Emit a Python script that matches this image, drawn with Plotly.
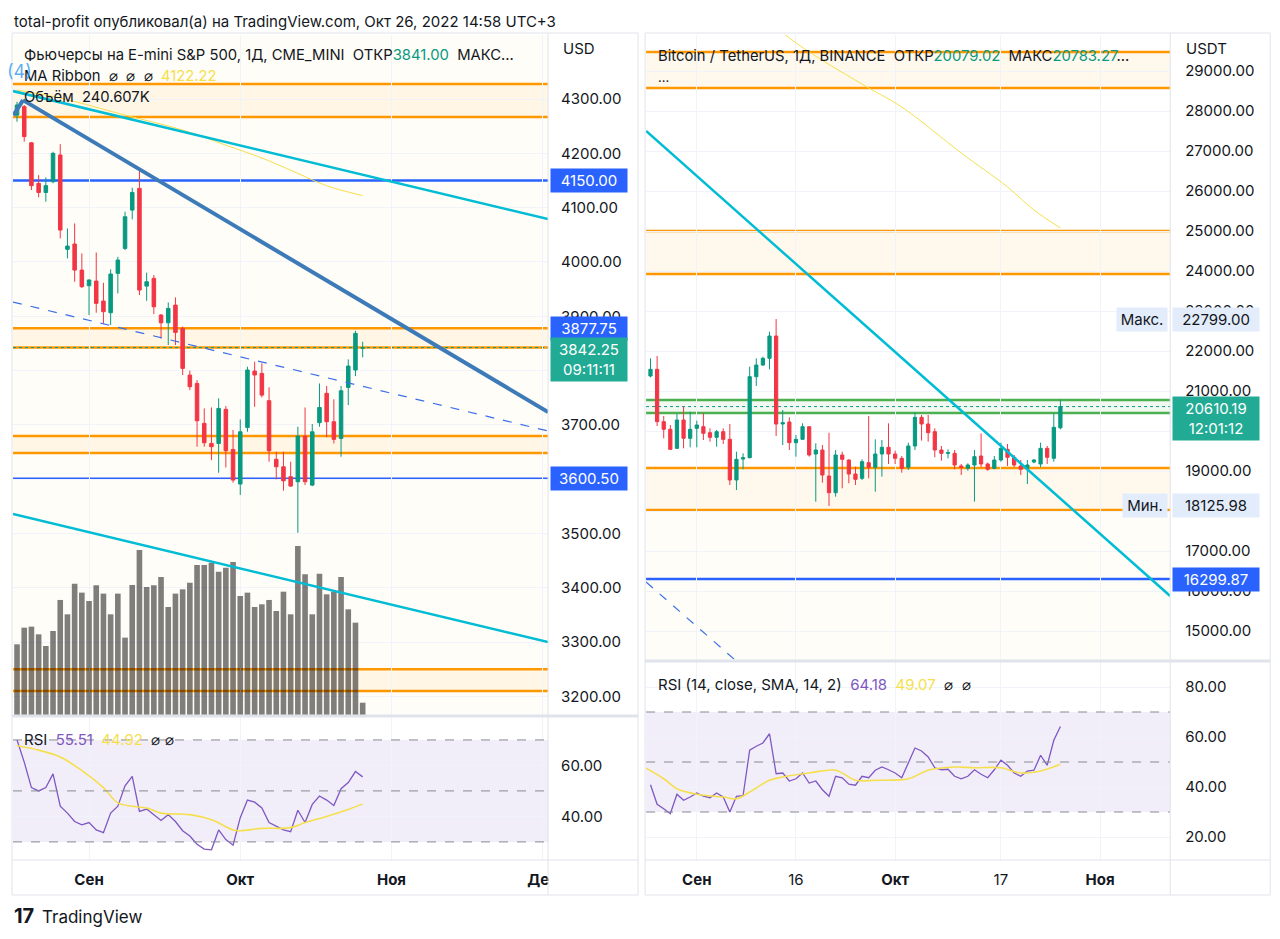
import plotly.graph_objects as go
import pandas as pd

# page pixels -> figure paper (page body keeps an 8 px margin; small horizontal squeeze observed)
OFF = 8
SX = 0.992
FW, FH = 1273, 939 - 2 * OFF
def px(x): return (x - OFF) / SX / FW
def py(y): return 1 - (y - OFF) / FH

FONT = "Inter, Roboto, 'Noto Sans', sans-serif"
TXT = "#131722"
TEAL = "#089981"
LBL_TEAL = "#22ab94"
RED = "#f23645"
ORANGE = "#ff9800"
BLUE = "#2962ff"
CYAN = "#00bcd4"
STEEL = "#3d7ab8"
DASHBLUE = "#3b6fe8"
YELLOW = "#f5df4d"
PURPLE = "#7e57c2"
GRID = "#f0f3fa"
FRAME = "#e0e3eb"
NB = "\u00a0"

# ---------------- E-mini S&P 500 futures (left) ----------------
es_dates = ["2022-08-18", "2022-08-19", "2022-08-22", "2022-08-23", "2022-08-24", "2022-08-25",
            "2022-08-26", "2022-08-29", "2022-08-30", "2022-08-31", "2022-09-01", "2022-09-02",
            "2022-09-06", "2022-09-07", "2022-09-08", "2022-09-09", "2022-09-12", "2022-09-13",
            "2022-09-14", "2022-09-15", "2022-09-16", "2022-09-19", "2022-09-20", "2022-09-21",
            "2022-09-22", "2022-09-23", "2022-09-26", "2022-09-27", "2022-09-28", "2022-09-29",
            "2022-09-30", "2022-10-03", "2022-10-04", "2022-10-05", "2022-10-06", "2022-10-07",
            "2022-10-10", "2022-10-11", "2022-10-12", "2022-10-13", "2022-10-14", "2022-10-17",
            "2022-10-18", "2022-10-19", "2022-10-20", "2022-10-21", "2022-10-24", "2022-10-25",
            "2022-10-26"]
es_open = [4270.5, 4286.0, 4219.5, 4144.75, 4128.0, 4147.75, 4197.0, 4023.25, 4033.0, 3985.0,
           3956.25, 3964.75, 3928.0, 3906.5, 3979.0, 4025.0, 4095.5, 4135.5, 3955.5, 3969.75,
           3902.25, 3888.0, 3920.5, 3877.75, 3791.75, 3776.25, 3702.75, 3665.75, 3665.75, 3728.5,
           3654.75, 3591.0, 3695.25, 3799.0, 3794.75, 3744.5, 3636.5, 3622.75, 3604.5, 3595.25,
           3679.25, 3589.0, 3704.0, 3758.0, 3705.75, 3675.0, 3769.0, 3801.0, 3841.0]
es_high = [4295.0, 4289.0, 4221.0, 4160.0, 4155.75, 4203.0, 4217.0, 4061.75, 4071.0, 4015.75,
           3968.0, 4017.5, 3961.75, 3986.25, 4009.5, 4092.5, 4136.75, 4172.25, 3980.25, 3976.0,
           3904.0, 3925.5, 3934.75, 3881.0, 3800.0, 3782.5, 3730.25, 3732.0, 3748.75, 3734.5,
           3690.5, 3710.0, 3807.0, 3816.25, 3813.25, 3769.0, 3650.5, 3650.5, 3632.0, 3696.5,
           3732.0, 3701.5, 3776.25, 3771.5, 3747.0, 3771.5, 3820.5, 3873.25, 3853.0]
es_low = [4258.25, 4221.5, 4132.5, 4119.0, 4111.0, 4145.0, 4043.5, 4006.5, 3963.5, 3952.0,
          3902.25, 3906.5, 3887.0, 3883.75, 3942.0, 4022.0, 4078.5, 3939.0, 3928.5, 3904.0,
          3859.25, 3847.0, 3847.0, 3791.75, 3764.0, 3659.75, 3659.75, 3635.0, 3611.75, 3621.5,
          3593.5, 3570.75, 3687.25, 3733.25, 3750.5, 3632.0, 3599.5, 3578.75, 3586.0, 3501.25,
          3589.0, 3587.0, 3696.5, 3677.0, 3665.75, 3641.25, 3736.5, 3789.75, 3824.25]
es_close = [4289.0, 4230.75, 4140.5, 4128.0, 4140.5, 4200.0, 4058.75, 4029.25, 3985.0, 3954.5,
            3966.75, 3923.75, 3908.5, 3977.75, 4003.5, 4083.25, 4128.0, 3948.25, 3963.5, 3917.5,
            3888.0, 3914.5, 3870.25, 3804.0, 3770.25, 3707.5, 3667.0, 3659.75, 3730.25, 3652.25,
            3598.25, 3687.25, 3801.0, 3791.75, 3754.75, 3652.25, 3622.75, 3597.0, 3587.25, 3679.25,
            3595.25, 3687.25, 3732.0, 3705.75, 3673.25, 3762.75, 3808.25, 3868.5, 3842.25]
es_volume_k = [1383, 1708, 1728, 1578, 1350, 1643, 2250, 1969, 2569, 2393, 2230, 2536, 2374,
               1969, 2374, 1513, 2543, 3228, 2504, 2536, 2700, 2113, 2374, 2458, 2589, 2934,
               2934, 2980, 2804, 2882, 2993, 2328, 2393, 2113, 2165, 2250, 2034, 2412, 1969,
               3306, 2752, 1969, 2765, 2360, 2412, 2700, 2067, 1806, 240.607]
es_rsi = [70.0, 61.3, 51.3, 50.0, 51.3, 56.7, 44.0, 41.3, 38.0, 36.7, 37.6, 34.7, 33.6, 41.3,
          44.0, 52.0, 55.7, 42.0, 42.9, 40.7, 38.4, 40.7, 38.0, 34.4, 32.3, 29.1, 27.2, 26.9,
          34.7, 30.9, 28.7, 39.5, 46.4, 45.6, 43.3, 37.6, 36.0, 34.7, 34.0, 42.4, 37.6, 44.7,
          48.0, 46.4, 44.3, 50.9, 53.3, 57.6, 55.51]
es_rsi_sma_bar = [0, 3, 6, 9, 12, 14, 16, 18, 20, 24, 27, 30, 31, 34, 38, 40, 43, 46, 48]
es_rsi_sma = [67.7, 66.0, 63.3, 58.0, 51.3, 45.3, 44.0, 43.3, 41.3, 40.7, 38.7, 34.7, 34.4,
              35.3, 35.6, 37.6, 40.0, 42.7, 44.92]
es_ma_bar = [0, 6, 15, 23, 29, 34, 38, 42, 44, 48]
es_ma = [4316.5, 4302.0, 4270.5, 4243.0, 4215.0, 4191.5, 4169.0, 4145.5, 4136.0, 4122.22]
es_month_bar = [10, 31, 52, 73]
es_month_text = ["Сен", "Окт", "Ноя", "Дек"]
es_price_ticks = [3200, 3300, 3400, 3500, 3600, 3700, 3800, 3900, 4000, 4100, 4200, 4300]
es_price_hidden = [3600, 3800]          # covered by the price-label boxes
es_rsi_ticks = [40, 60]
# drawings (bar index, price)
es_wave_bar, es_wave_px = [-0.5, 0.83, 73.75], [4270.0, 4298.0, 3723.6]
es_chan_up_bar, es_chan_up_px = [-0.56, 73.75], [4314.7, 4079.0]
es_chan_lo_bar, es_chan_lo_px = [-0.56, 73.75], [3535.7, 3300.0]
es_dash_bar, es_dash_px = [-0.56, 73.75], [3926.2, 3688.6]
es_bands = [(4327.6, 4266.9), (3877.75, 3842.25), (3679.4, 3648.0), (3250.0, 3209.8)]
es_blue_levels = [4150.00, 3600.50]

# ---------------- Bitcoin / TetherUS (right) ----------------
btc_dates = pd.date_range("2022-08-25", "2022-10-26", freq="D").strftime("%Y-%m-%d").tolist()
btc_open = [21375, 21542, 20233, 20042, 19567, 20275, 19817, 20067, 20108, 19958, 19842, 19983,
            19792, 18775, 19300, 19333, 21358, 21650, 21817, 22375, 20175, 20225, 19708, 19792,
            20108, 19425, 19525, 18875, 18458, 19400, 19275, 18925, 18817, 19208, 19092, 19425,
            19592, 19425, 19317, 19092, 19625, 20342, 20175, 19983, 19525, 19442, 19442, 19125,
            19067, 19150, 19375, 19175, 19067, 19275, 19542, 19342, 19125, 19067, 19225, 19175,
            19567, 19317, 20079.02]
btc_high = [21817, 21875, 20375, 20150, 20425, 20608, 20483, 20258, 20442, 20067, 20025, 20067,
            20175, 19483, 19442, 21608, 21817, 21858, 22483, 22799, 20525, 20342, 19900, 20192,
            20108, 19692, 19650, 19958, 19525, 19483, 19292, 19108, 19292, 20375, 19792, 19775,
            20192, 19508, 19375, 19708, 20467, 20400, 20400, 20067, 19625, 19542, 19525, 19175,
            19192, 19525, 19942, 19208, 19375, 19708, 19675, 19400, 19275, 19275, 19300, 19708,
            19625, 20442, 20783.27]
btc_low = [21342, 20125, 19817, 19525, 19550, 19567, 19592, 19592, 19775, 19733, 19608, 19675,
           18650, 18525, 19042, 19317, 21125, 21625, 21542, 19875, 19650, 19525, 19358, 19780,
           19358, 18233, 18708, 18125.98, 18358, 18567, 18692, 18650, 18775, 18817, 18483, 18858,
           19175, 19175, 18958, 19025, 19525, 19758, 19733, 19342, 19258, 19317, 19042, 18900,
           19008, 18233, 19092, 19008, 19042, 19233, 19125, 19092, 18900, 18675, 19192, 19092,
           19175, 19233, 20042]
btc_close = [21542, 20233, 20042, 19542, 20275, 19817, 20042, 20150, 19942, 19842, 19983, 19792,
             18775, 19292, 19333, 21358, 21650, 21817, 22375, 20175, 20208, 19708, 19792, 20108,
             19400, 19525, 18900, 18458, 19400, 19292, 18925, 18792, 19233, 19092, 19425, 19592,
             19425, 19317, 19067, 19625, 20342, 20175, 19958, 19525, 19442, 19458, 19150, 19092,
             19150, 19358, 19175, 19042, 19275, 19567, 19342, 19150, 19042, 19150, 19275, 19567,
             19342, 20092, 20610.19]
btc_rsi = [40.9, 33.1, 31.3, 29.3, 37.1, 34.7, 36.0, 37.6, 36.3, 35.7, 37.6, 36.0, 30.0, 36.3,
           36.5, 54.7, 56.3, 57.6, 61.3, 45.3, 45.6, 42.4, 43.3, 45.6, 41.6, 42.4, 38.9, 36.3,
           44.3, 43.7, 41.1, 40.7, 44.3, 43.7, 46.7, 48.0, 46.9, 45.6, 43.7, 49.3, 55.6, 54.4,
           52.0, 47.7, 46.9, 47.1, 44.3, 43.3, 44.3, 46.9, 45.1, 43.7, 46.9, 50.7, 48.7, 45.6,
           44.3, 46.4, 46.7, 52.7, 48.7, 58.7, 64.18]
btc_rsi_sma_dates = ["2022-08-24", "2022-08-27", "2022-08-29", "2022-09-01", "2022-09-05",
                     "2022-09-07", "2022-09-09", "2022-09-12", "2022-09-14", "2022-09-18",
                     "2022-09-22", "2022-09-25", "2022-09-28", "2022-10-03", "2022-10-06",
                     "2022-10-10", "2022-10-13", "2022-10-17", "2022-10-20", "2022-10-23",
                     "2022-10-26"]
btc_rsi_sma = [48.0, 43.3, 39.3, 37.1, 36.0, 35.3, 38.0, 42.7, 44.0, 45.6, 46.7, 42.7, 42.7,
               43.3, 46.7, 48.0, 47.7, 47.7, 45.6, 46.4, 49.07]
btc_ma_dates = ["2022-09-14", "2022-09-18", "2022-09-27", "2022-10-02", "2022-10-11",
                "2022-10-18", "2022-10-22", "2022-10-26"]
btc_ma = [29950, 29475, 28575, 28100, 26950, 26100, 25525, 25075]
btc_tick_dates = ["2022-09-01", "2022-09-16", "2022-10-01", "2022-10-17", "2022-11-01"]
btc_tick_text = ["<b>Сен</b>", "16", "<b>Окт</b>", "17", "<b>Ноя</b>"]
btc_price_ticks = [15000, 16000, 17000, 18000, 19000, 20000, 21000, 22000, 23000, 24000,
                   25000, 26000, 27000, 28000, 29000]
btc_price_hidden = [18000]              # covered by the "Мин." label
btc_rsi_ticks = [20, 40, 60, 80]
btc_chan_t, btc_chan_px = ["2022-08-24 08:00", "2022-11-11 14:24"], [27500, 15875]
btc_dash_t, btc_dash_px = ["2022-08-24 08:00", "2022-09-06 19:00"], [16225, 14275]
btc_orange_bands = [(29475, 28575), (25000, 23925), (19075, 18025)]
btc_green_band = (20775, 20450)
btc_blue_level = 16299.87

# ---------------- figure ----------------
fig = go.Figure()
candle_style = dict(increasing=dict(line=dict(color=TEAL, width=1), fillcolor=TEAL),
                    decreasing=dict(line=dict(color=RED, width=1), fillcolor=RED),
                    whiskerwidth=0, showlegend=False, hoverinfo="skip")
es_x = list(range(len(es_dates)))
fig.add_trace(go.Candlestick(x=es_x, open=es_open, high=es_high, low=es_low, close=es_close,
                             xaxis="x", yaxis="y", **candle_style))
fig.add_trace(go.Scatter(x=es_ma_bar, y=es_ma, mode="lines", xaxis="x", yaxis="y",
                         line=dict(color=YELLOW, width=1, shape="spline"), showlegend=False))
fig.add_trace(go.Bar(x=es_x, y=es_volume_k, width=0.78, xaxis="x", yaxis="y3",
                     marker=dict(color="rgba(0,0,0,0.5)", line=dict(width=0)), showlegend=False))
fig.add_trace(go.Scatter(x=es_x, y=es_rsi, mode="lines", xaxis="x2", yaxis="y2",
                         line=dict(color=PURPLE, width=1.3), showlegend=False))
fig.add_trace(go.Scatter(x=es_rsi_sma_bar, y=es_rsi_sma, mode="lines", xaxis="x2", yaxis="y2",
                         line=dict(color=YELLOW, width=1.6, shape="spline"), showlegend=False))

fig.add_trace(go.Candlestick(x=btc_dates, open=btc_open, high=btc_high, low=btc_low,
                             close=btc_close, xaxis="x3", yaxis="y4", **candle_style))
fig.add_trace(go.Scatter(x=btc_ma_dates, y=btc_ma, mode="lines", xaxis="x3", yaxis="y4",
                         line=dict(color=YELLOW, width=1, shape="spline"), showlegend=False))
fig.add_trace(go.Scatter(x=btc_dates, y=btc_rsi, mode="lines", xaxis="x4", yaxis="y5",
                         line=dict(color=PURPLE, width=1.3), showlegend=False))
fig.add_trace(go.Scatter(x=btc_rsi_sma_dates, y=btc_rsi_sma, mode="lines", xaxis="x4", yaxis="y5",
                         line=dict(color=YELLOW, width=1.6, shape="spline"), showlegend=False))

shapes = []
BAND = "rgba(255,152,0,0.07)"
# backgrounds
shapes.append(dict(type="rect", xref="x domain", yref="y domain", x0=0, x1=1, y0=0, y1=1,
                   fillcolor="#fffdf7", line=dict(width=0), layer="below"))
shapes.append(dict(type="rect", xref="x3 domain", yref="y4", x0=0, x1=1, y0=10000,
                   y1=btc_orange_bands[2][1], fillcolor="#fffdf8", line=dict(width=0), layer="below"))
# left levels
for hi, lo in es_bands:
    shapes.append(dict(type="rect", xref="x domain", yref="y", x0=0, x1=1, y0=lo, y1=hi,
                       fillcolor=BAND, line=dict(width=0), layer="below"))
    for lv in (hi, lo):
        shapes.append(dict(type="line", xref="x domain", yref="y", x0=0, x1=1, y0=lv, y1=lv,
                           line=dict(color=ORANGE, width=2.5), layer="below"))
for lv in es_blue_levels:
    shapes.append(dict(type="line", xref="x domain", yref="y", x0=0, x1=1, y0=lv, y1=lv,
                       line=dict(color=BLUE, width=2.5), layer="below"))
shapes.append(dict(type="line", xref="x domain", yref="y", x0=0, x1=1, y0=es_close[-1],
                   y1=es_close[-1], line=dict(color=TEAL, width=1, dash="dot"), layer="below"))
# right levels
for hi, lo in btc_orange_bands:
    shapes.append(dict(type="rect", xref="x3 domain", yref="y4", x0=0, x1=1, y0=lo, y1=hi,
                       fillcolor=BAND, line=dict(width=0), layer="below"))
    for lv in (hi, lo):
        shapes.append(dict(type="line", xref="x3 domain", yref="y4", x0=0, x1=1, y0=lv, y1=lv,
                           line=dict(color=ORANGE, width=2.5), layer="below"))
shapes.append(dict(type="rect", xref="x3 domain", yref="y4", x0=0, x1=1, y0=btc_green_band[1],
                   y1=btc_green_band[0], fillcolor="rgba(76,175,80,0.08)", line=dict(width=0),
                   layer="below"))
for lv in btc_green_band:
    shapes.append(dict(type="line", xref="x3 domain", yref="y4", x0=0, x1=1, y0=lv, y1=lv,
                       line=dict(color="#4caf50", width=2.5), layer="below"))
shapes.append(dict(type="line", xref="x3 domain", yref="y4", x0=0, x1=1, y0=btc_blue_level,
                   y1=btc_blue_level, line=dict(color=BLUE, width=2.5), layer="below"))
shapes.append(dict(type="line", xref="x3 domain", yref="y4", x0=0, x1=1, y0=btc_close[-1],
                   y1=btc_close[-1], line=dict(color=TEAL, width=1, dash="dot"), layer="below"))
# RSI bands
for xr, yr in (("x2", "y2"), ("x4", "y5")):
    shapes.append(dict(type="rect", xref=f"{xr} domain", yref=yr, x0=0, x1=1, y0=30, y1=70,
                       fillcolor="rgba(126,87,194,0.1)", line=dict(width=0), layer="below"))
    for lv in (70, 50, 30):
        shapes.append(dict(type="line", xref=f"{xr} domain", yref=yr, x0=0, x1=1, y0=lv, y1=lv,
                           line=dict(color="#868993", width=1, dash="dash"), layer="above"))
# trend lines
def seg_lines(xs, ys, xr, yr, color, width, dash="solid"):
    for i in range(len(xs) - 1):
        shapes.append(dict(type="line", xref=xr, yref=yr, x0=xs[i], x1=xs[i + 1], y0=ys[i],
                           y1=ys[i + 1], line=dict(color=color, width=width, dash=dash),
                           layer="above"))
seg_lines(es_wave_bar, es_wave_px, "x", "y", STEEL, 4)
seg_lines(es_chan_up_bar, es_chan_up_px, "x", "y", CYAN, 2.5)
seg_lines(es_chan_lo_bar, es_chan_lo_px, "x", "y", CYAN, 2.5)
seg_lines(es_dash_bar, es_dash_px, "x", "y", DASHBLUE, 1.2, "dash")
seg_lines(btc_chan_t, btc_chan_px, "x3", "y4", CYAN, 2.5)
seg_lines(btc_dash_t, btc_dash_px, "x3", "y4", DASHBLUE, 1.2, "dash")

# panel frames (paper)
def pline(x0, y0, x1, y1, w=1, c=FRAME):
    shapes.append(dict(type="line", xref="paper", yref="paper", x0=px(x0), x1=px(x1),
                       y0=py(y0), y1=py(y1), line=dict(color=c, width=w), layer="above"))
shapes.append(dict(type="rect", xref="paper", yref="paper", x0=px(549), x1=px(637),
                   y0=py(894), y1=py(861), fillcolor="white", line=dict(width=0), layer="above"))
for (l, r, sep, mid) in ((12, 638, 548, 716), (645, 1270, 1170, 661)):
    shapes.append(dict(type="rect", xref="paper", yref="paper", x0=px(l), x1=px(r), y0=py(895),
                       y1=py(33), line=dict(color=FRAME, width=1), layer="above"))
    pline(sep, 33, sep, 895)
    pline(l, mid, r, mid, 3)
    pline(l, 860, r, 860, 1)

ann = []
def text(x, y, s, size=15, color=TXT, anchor="left", **kw):
    ann.append(dict(xref="paper", yref="paper", x=px(x), y=py(y), text=s, showarrow=False,
                    xanchor=anchor, yanchor="middle", font=dict(size=size, color=color, family=FONT),
                    **kw))

text(12, 22, "total-profit опубликовал(а) на TradingView.com, Окт 26, 2022 14:58 UTC+3", 15)
text(22, 55, f"Фьючерсы на E-mini S&amp;P 500, 1Д, CME_MINI{NB}{NB}ОТКР<span style='color:{TEAL}'>3841.00</span>{NB}{NB}МАКС...", 14.8)
text(22, 76, f"MA Ribbon{NB}{NB}⌀{NB}{NB}⌀{NB}{NB}⌀{NB}{NB}<span style='color:{YELLOW}'>4122.22</span>", 14.8)
text(22, 97, f"Объём{NB}{NB}240.607K", 14.8)
text(656, 56, f"Bitcoin / TetherUS, 1Д, BINANCE{NB}{NB}ОТКР<span style='color:{TEAL}'>20079.02</span>{NB}{NB}МАКС<span style='color:{TEAL}'>20783.27</span>...", 14.8)
text(656, 77, "...", 13)
text(22, 739, f"RSI{NB}{NB}<span style='color:{PURPLE}'>55.51</span>{NB}{NB}<span style='color:{YELLOW}'>44.92</span>{NB}{NB}⌀{NB}⌀", 15)
text(656, 684, f"RSI (14, close, SMA, 14, 2){NB}{NB}<span style='color:{PURPLE}'>64.18</span>{NB}{NB}<span style='color:{YELLOW}'>49.07</span>{NB}{NB}⌀{NB}{NB}⌀", 15)
text(561, 49, "USD", 15)
text(1184, 49, "USDT", 15)
text(12, 916, "<b>17</b>", 20)
text(40, 917, "TradingView", 17)
ann.append(dict(xref="x", yref="y", x=0.3, y=4350, text="(4)", showarrow=False,
                font=dict(size=18, color="rgba(33,150,243,0.75)", family=FONT)))

def price_box(yref, y, s, xc, bg, fg="white", width=72, top=False):
    d = dict(xref="paper", yref=yref, x=px(xc), y=y, text=s, showarrow=False, xanchor="center",
             yanchor="top" if top else "middle", bgcolor=bg, borderpad=2, width=width,
             font=dict(size=15, color=fg, family=FONT))
    if top:
        d["yshift"] = 11
    ann.append(d)

for lv in es_blue_levels:
    price_box("y", lv, f"{lv:.2f}", 589, BLUE)
price_box("y", es_bands[1][0], f"{es_bands[1][0]:.2f}", 589, BLUE)
price_box("y", es_close[-1], f"{es_close[-1]:.2f}<br>09:11:11", 589, LBL_TEAL, top=True)
price_box("y4", btc_close[-1], f"{btc_close[-1]:.2f}<br>12:01:12", 1216, LBL_TEAL, width=82, top=True)
price_box("y4", btc_blue_level, f"{btc_blue_level:.2f}", 1216, BLUE, width=82)
price_box("y4", max(btc_high), f"{max(btc_high):.2f}", 1216, "#e3ecfb", TXT, width=82)
price_box("y4", max(btc_high), "Макс.", 1142, "#e3ecfb", TXT, width=46)
price_box("y4", min(btc_low), f"{min(btc_low):.2f}", 1216, "#e3ecfb", TXT, width=82)
price_box("y4", min(btc_low), "Мин.", 1145, "#e3ecfb", TXT, width=40)

def tick_text(vals, hidden):
    return ["" if v in hidden else f"{v:.2f}" for v in vals]

tickfont = dict(size=15, color=TXT, family=FONT)
yax = dict(side="right", showline=False, zeroline=False, ticks="", tickfont=tickfont,
           gridcolor=GRID, tickformat=".2f", ticklabelstandoff=12, fixedrange=True)
xax = dict(showline=False, zeroline=False, ticks="", gridcolor=GRID, showgrid=True,
           tickfont=tickfont, ticklabelstandoff=9, fixedrange=True)
ES_XR = [-0.56, 73.75]
BTC_XR = ["2022-08-24 08:00", "2022-11-11 14:24"]

fig.update_layout(
    width=FW, height=FH, margin=dict(l=0, r=0, t=0, b=0),
    paper_bgcolor="white", plot_bgcolor="white", showlegend=False, hovermode=False,
    font=dict(family=FONT, color=TXT),
    xaxis=dict(xax, domain=[px(13), px(548)], range=ES_XR, anchor="y", tickvals=es_month_bar,
               showticklabels=False, rangeslider=dict(visible=False)),
    yaxis=dict(yax, domain=[py(715), py(35)], range=[3165.6, 4418], anchor="x",
               tickvals=es_price_ticks, ticktext=tick_text(es_price_ticks, es_price_hidden)),
    yaxis3=dict(overlaying="y", range=[0, 13300], visible=False, anchor="x", fixedrange=True),
    xaxis2=dict(xax, domain=[px(13), px(548)], range=ES_XR, anchor="y2", tickvals=es_month_bar,
                ticktext=[f"<b>{m}</b>" for m in es_month_text]),
    yaxis2=dict(yax, domain=[py(860), py(717)], range=[22.9, 79.0], anchor="x2",
                tickvals=es_rsi_ticks),
    xaxis3=dict(xax, type="date", domain=[px(646), px(1170)], range=BTC_XR, anchor="y4",
                tickvals=btc_tick_dates, showticklabels=False, rangeslider=dict(visible=False)),
    yaxis4=dict(yax, domain=[py(660), py(35)], range=[14275, 29900], anchor="x3",
                tickvals=btc_price_ticks, ticktext=tick_text(btc_price_ticks, btc_price_hidden),
                ticklabelstandoff=14),
    xaxis4=dict(xax, type="date", domain=[px(646), px(1170)], range=BTC_XR, anchor="y5",
                tickvals=btc_tick_dates, ticktext=btc_tick_text),
    yaxis5=dict(yax, domain=[py(860), py(662)], range=[10.8, 90], anchor="x4",
                tickvals=btc_rsi_ticks, ticklabelstandoff=14),
    shapes=shapes, annotations=ann,
)

fig.write_html("out.html")
